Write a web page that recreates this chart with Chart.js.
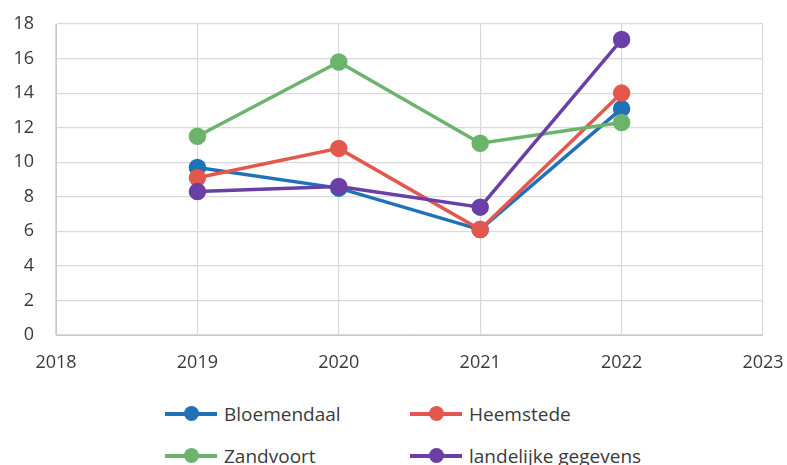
<!DOCTYPE html>
<html>
<head>
<meta charset="utf-8">
<script src="https://cdn.jsdelivr.net/npm/chart.js@4"></script>
<style>
  body { margin: 0; background: #fff; overflow: hidden; }
  #wrap { position: relative; width: 787px; height: 465px; }
  #box { position: absolute; left: 0; top: 0; width: 787px; height: 380px; }
  .leg { position: absolute; display: flex; align-items: center; font-family: "Open Sans", sans-serif; font-size: 19px; color: #3a3a3a; white-space: nowrap; }
  .leg i { position: relative; display: inline-block; width: 52px; height: 4px; margin-right: 7px; }
  .leg i b { position: absolute; left: 19px; top: -6px; width: 15px; height: 15px; border-radius: 50%; }
</style>
</head>
<body>
<div id="wrap">
  <div id="box"><canvas id="lineChart"></canvas></div>
  <div id="legend"></div>
</div>
<script>
const years = [2019, 2020, 2021, 2022];
const seriesNames = ['Bloemendaal', 'Heemstede', 'Zandvoort', 'landelijke gegevens'];
const bloemendaal = [9.7, 8.5, 6.1, 13.1];
const heemstede = [9.1, 10.8, 6.1, 14.0];
const zandvoort = [11.5, 15.8, 11.1, 12.3];
const landelijk = [8.3, 8.6, 7.4, 17.1];
const yTicks = [0, 2, 4, 6, 8, 10, 12, 14, 16, 18];
const xTicks = [2018, 2019, 2020, 2021, 2022, 2023];

const colors = ['#1f72b8', '#e3574c', '#6cb36c', '#6a40a6'];
const allValues = [bloemendaal, heemstede, zandvoort, landelijk];

const datasets = allValues.map((vals, i) => ({
  label: seriesNames[i],
  data: vals.map((v, j) => ({ x: years[j], y: v })),
  borderColor: colors[i],
  backgroundColor: colors[i],
  pointBackgroundColor: colors[i],
  pointBorderColor: colors[i],
  borderWidth: 3.5,
  pointRadius: 7,
  tension: 0
}));
// purple on top, as in the picture
datasets.forEach((d, i) => { d.order = 4 - i; });

const font = { family: '"Open Sans", sans-serif', size: 18 };
const ctx = document.getElementById('lineChart').getContext('2d');
new Chart(ctx, {
  type: 'line',
  data: { datasets: datasets },
  options: {
    responsive: true,
    maintainAspectRatio: false,
    animation: false,
    layout: { padding: { left: 12, right: 24, top: 24, bottom: 0 } },
    plugins: { legend: { display: false }, tooltip: { enabled: false } },
    scales: {
      x: {
        type: 'linear',
        min: xTicks[0],
        max: xTicks[xTicks.length - 1],
        afterBuildTicks: axis => { axis.ticks = xTicks.map(v => ({ value: v })); },
        afterFit: axis => { axis.height = 45; },
        ticks: { color: '#3a3a3a', font: font, padding: 0, callback: v => String(v) },
        grid: { color: '#d9d9d9', lineWidth: 1.2, drawTicks: true, tickLength: 17, tickColor: 'rgba(0,0,0,0)' },
        border: { color: '#c8c8c8' }
      },
      y: {
        min: 0,
        max: 18,
        afterBuildTicks: axis => { axis.ticks = yTicks.map(v => ({ value: v })); },
        afterFit: axis => { axis.width = 44; },
        ticks: { color: '#3a3a3a', font: font, padding: 0 },
        grid: { color: '#d9d9d9', lineWidth: 1.2, drawTicks: true, tickLength: 22, tickColor: 'rgba(0,0,0,0)' },
        border: { color: '#c8c8c8' }
      }
    }
  }
});

// two-column legend below the chart
const legPos = [[165, 401], [410, 401], [165, 443], [410, 443]];
const legend = document.getElementById('legend');
seriesNames.forEach((name, i) => {
  const el = document.createElement('div');
  el.className = 'leg';
  el.style.left = legPos[i][0] + 'px';
  el.style.top = legPos[i][1] + 'px';
  el.innerHTML = '<i style="background:' + colors[i] + '"><b style="background:' + colors[i] + '"></b></i>' + name;
  legend.appendChild(el);
});
</script>
</body>
</html>
